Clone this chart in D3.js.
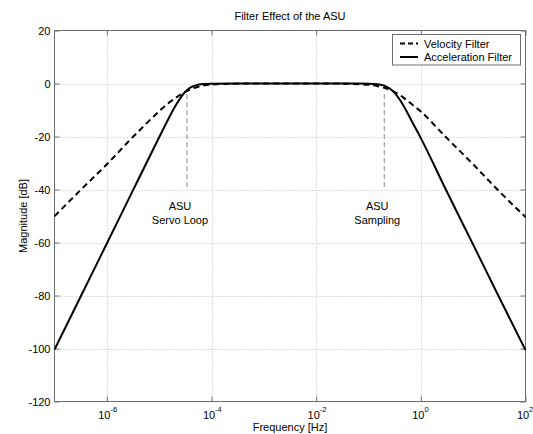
<!DOCTYPE html>
<html>
<head>
<meta charset="utf-8">
<script src="https://cdn.jsdelivr.net/npm/d3@7"></script>
<style>
  html, body { margin: 0; padding: 0; background: #fff; }
  svg { display: block; font-family: "Liberation Sans", Arial, Helvetica, sans-serif; }
</style>
</head>
<body>
<svg id="chart" width="533" height="434"></svg>
<script>
// Frequency samples (Hz) and magnitude responses (dB)
const frequency = [1e-7, 3e-7, 1e-6, 3e-6, 1e-5, 1.5e-5, 2e-5, 3e-5, 4e-5, 5e-5, 7e-5, 1e-4, 3e-4,
                   1e-3, 1e-2, 3e-2, 0.1, 0.15, 0.2, 0.3, 0.4, 0.5, 0.7, 1, 3, 10, 30, 100];
const velocityFilter = [-50.1, -40.6, -30.5, -20.6, -10.5, -7.4, -5.6, -3.4, -2.2, -1.5, -0.8, -0.4, -0.05,
                        0, 0, -0.05, -0.5, -1.0, -1.6, -3.0, -4.4, -5.8, -8.1, -10.6, -20.2, -30.5, -40.3, -50.4];
const accelerationFilter = [-100.4, -81.3, -60.4, -41.2, -20.3, -13.4, -8.8, -3.6, -1.5, -0.7, -0.2, -0.05, 0,
                            0, 0, 0, -0.05, -0.3, -0.8, -3.0, -6.2, -9.4, -14.9, -20.6, -40.0, -60.8, -79.9, -100.6];

// Axis ticks
const xTickExponents = [-6, -4, -2, 0, 2];
const yTicks = [20, 0, -20, -40, -60, -80, -100, -120];

// Annotation markers: frequency, top and bottom of the guide line (dB), label lines
const markerFreq = [3.4e-5, 0.2];
const markerTop = [-4, -4];
const markerBottom = [-40, -40];
const markerLabels = [["ASU", "Servo Loop"], ["ASU", "Sampling"]];

const seriesNames = ["Velocity Filter", "Acceleration Filter"];

const svg = d3.select("#chart");
const L = 54.5, R = 525.5, T = 30.5, B = 401.5;

const x = d3.scaleLog().domain([1e-7, 1e2]).range([L, R]);
const y = d3.scaleLinear().domain([-120, 20]).range([B, T]);

const axisColor = "#6e6e6e";
const gridColor = "#bdbdbd";

// Grid lines
const grid = svg.append("g");
xTickExponents.filter(e => e < 2).forEach(e => {
  grid.append("line")
    .attr("x1", Math.round(x(Math.pow(10, e))) + 0.5).attr("x2", Math.round(x(Math.pow(10, e))) + 0.5)
    .attr("y1", T).attr("y2", B)
    .attr("stroke", gridColor).attr("stroke-width", 1).attr("stroke-dasharray", "1,2");
});
yTicks.filter(v => v < 20 && v > -120).forEach(v => {
  grid.append("line")
    .attr("x1", L).attr("x2", R)
    .attr("y1", Math.round(y(v)) + 0.5).attr("y2", Math.round(y(v)) + 0.5)
    .attr("stroke", gridColor).attr("stroke-width", 1).attr("stroke-dasharray", "1,2");
});

// Frame
svg.append("rect")
  .attr("x", L).attr("y", T).attr("width", R - L).attr("height", B - T)
  .attr("fill", "none").attr("stroke", axisColor).attr("stroke-width", 1);

// Inward tick marks on all four sides via d3 axes
const xAxisB = d3.axisBottom(x).tickValues(xTickExponents.map(e => Math.pow(10, e)))
  .tickSize(-5).tickFormat("");
const xAxisT = d3.axisTop(x).tickValues(xTickExponents.map(e => Math.pow(10, e)))
  .tickSize(-5).tickFormat("");
const yAxisL = d3.axisLeft(y).tickValues(yTicks).tickSize(-5).tickFormat("");
const yAxisR = d3.axisRight(y).tickValues(yTicks).tickSize(-5).tickFormat("");
[[xAxisB, `translate(0,${B})`], [xAxisT, `translate(0,${T})`],
 [yAxisL, `translate(${L},0)`], [yAxisR, `translate(${R},0)`]].forEach(([ax, tr]) => {
  const g = svg.append("g").attr("transform", tr).call(ax);
  g.select(".domain").remove();
  g.selectAll("line").attr("stroke", axisColor);
});

// Y tick labels
svg.append("g").selectAll("text").data(yTicks).join("text")
  .attr("x", L - 4).attr("y", d => y(d) + 4)
  .attr("text-anchor", "end").attr("font-size", 11).attr("fill", "#000")
  .text(d => d);

// X tick labels (powers of ten): base centred just left of the tick, exponent after it
const xl = svg.append("g").selectAll("g").data(xTickExponents).join("g");
xl.append("text")
  .attr("x", d => x(Math.pow(10, d)) - 2.5).attr("y", 419)
  .attr("text-anchor", "middle").attr("font-size", 11).attr("fill", "#000")
  .text("10");
xl.append("text")
  .attr("x", d => x(Math.pow(10, d)) + 3.6).attr("y", 412)
  .attr("text-anchor", "start").attr("font-size", 7.5).attr("fill", "#000")
  .text(d => d);

// Annotation guide lines and labels
markerFreq.forEach((f, i) => {
  svg.append("line")
    .attr("x1", x(f)).attr("x2", x(f))
    .attr("y1", y(markerTop[i])).attr("y2", y(markerBottom[i]))
    .attr("stroke", "#8a8a8a").attr("stroke-width", 1).attr("stroke-dasharray", "5,3");
  markerLabels[i].forEach((t, j) => {
    svg.append("text")
      .attr("x", x(f) - 7).attr("y", 210 + j * 13.5)
      .attr("text-anchor", "middle").attr("font-size", 11).attr("fill", "#000")
      .text(t);
  });
});

// Response curves
const pts = vals => frequency.map((f, i) => [f, vals[i]]);
const line = d3.line().x(d => x(d[0])).y(d => y(d[1])).curve(d3.curveMonotoneX);

svg.append("path").datum(pts(velocityFilter))
  .attr("d", line).attr("fill", "none").attr("stroke", "#000")
  .attr("stroke-width", 2).attr("stroke-dasharray", "6,4");
svg.append("path").datum(pts(accelerationFilter))
  .attr("d", line).attr("fill", "none").attr("stroke", "#000")
  .attr("stroke-width", 2);

// Legend
const lg = svg.append("g");
lg.append("rect").attr("x", 392.5).attr("y", 34.5).attr("width", 128).attr("height", 30.5)
  .attr("fill", "#fff").attr("stroke", axisColor).attr("stroke-width", 1);
seriesNames.forEach((name, i) => {
  const yy = 43.5 + i * 13.5;
  lg.append("line").attr("x1", 400).attr("x2", 418).attr("y1", yy).attr("y2", yy)
    .attr("stroke", "#000").attr("stroke-width", 2)
    .attr("stroke-dasharray", i === 0 ? "5,3" : null);
  lg.append("text").attr("x", 424).attr("y", yy + 4)
    .attr("font-size", 11).attr("fill", "#000").text(name);
});

// Title and axis labels
svg.append("text").attr("x", (L + R) / 2).attr("y", 20)
  .attr("text-anchor", "middle").attr("font-size", 11).attr("fill", "#000")
  .text("Filter Effect of the ASU");
svg.append("text").attr("x", (L + R) / 2).attr("y", 431)
  .attr("text-anchor", "middle").attr("font-size", 11).attr("fill", "#000")
  .text("Frequency [Hz]");
svg.append("text")
  .attr("transform", `translate(27,${(T + B) / 2}) rotate(-90)`)
  .attr("text-anchor", "middle").attr("font-size", 11).attr("fill", "#000")
  .text("Magnitude [dB]");
</script>
</body>
</html>
